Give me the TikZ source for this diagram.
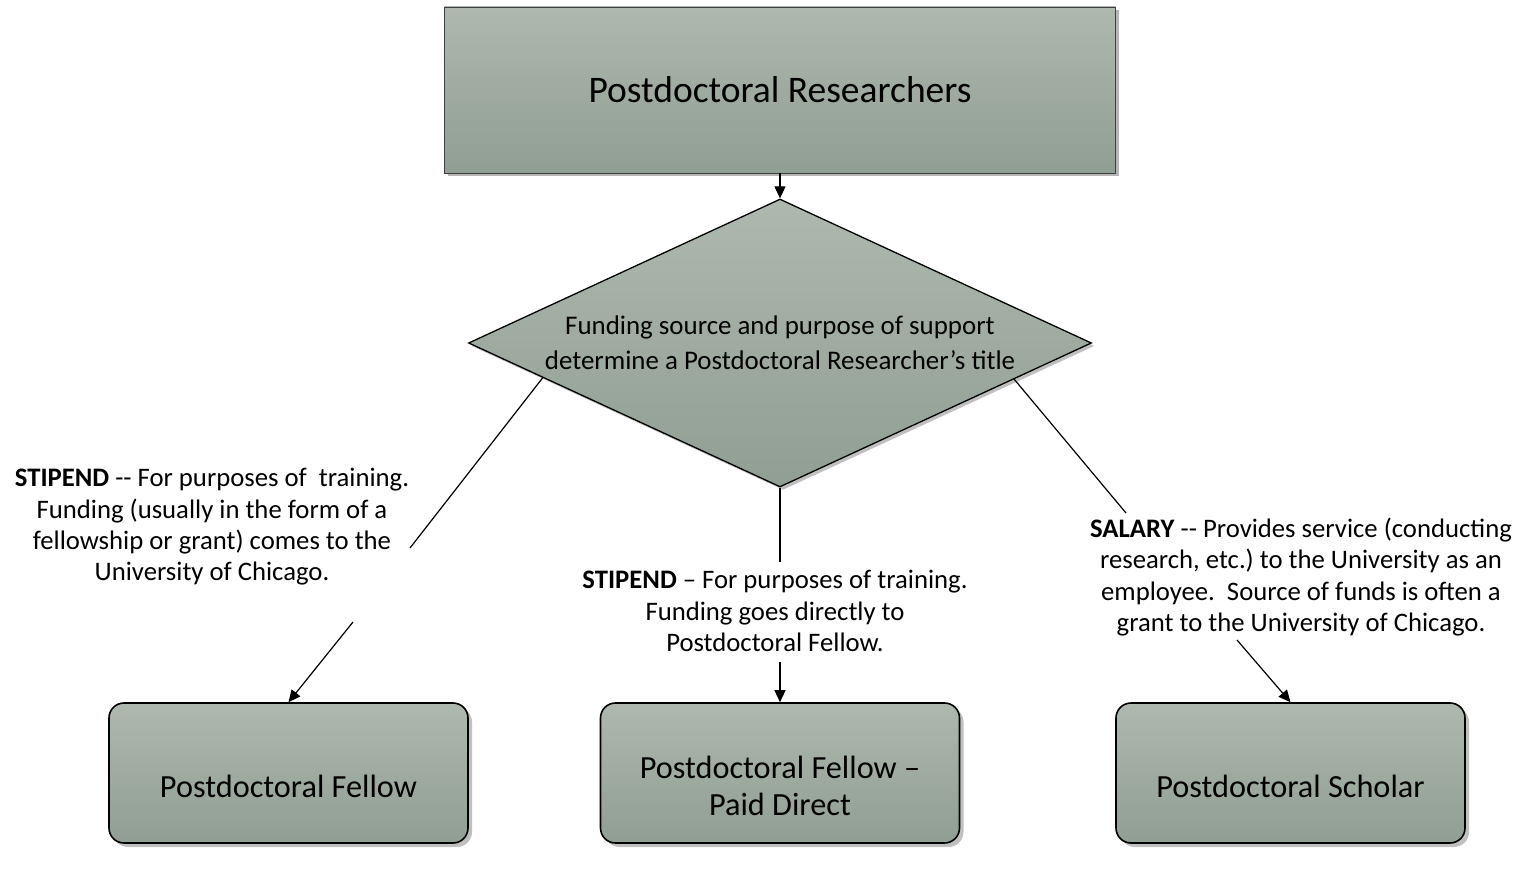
\documentclass[tikz,border=0pt]{standalone}
\usepackage{fontspec}
\setmainfont{Carlito}
\usetikzlibrary{shapes.geometric,calc,shadows,arrows.meta}
\definecolor{boxtop}{RGB}{174,184,175}
\definecolor{boxbot}{RGB}{144,158,147}
\definecolor{shade}{RGB}{150,150,150}
\frenchspacing
\begin{document}
\begin{tikzpicture}[x=1pt,y=-1pt,
  boxbase/.style={draw=black, top color=boxtop, bottom color=boxbot,
    align=center, inner sep=0pt},
  topbox/.style={boxbase, draw=black!75, line width=0.8pt,
    minimum width=671pt, minimum height=166pt,
    drop shadow={shadow xshift=3pt, shadow yshift=-3pt, fill=shade, opacity=.7},
    font=\fontsize{37.5}{44}\selectfont},
  decision/.style={boxbase, diamond, line width=1.3pt, shape aspect=2.16,
    minimum width=623pt, minimum height=288pt,
    drop shadow={shadow xshift=3pt, shadow yshift=-3pt, fill=shade, opacity=.6},
    font=\fontsize{26.9}{35}\selectfont},
  titlebox/.style={boxbase, line width=1.6pt, rounded corners=15pt,
    minimum width=359pt, minimum height=140pt,
    drop shadow={shadow xshift=4pt, shadow yshift=-4pt, fill=shade, opacity=.6}},
  titletext/.style={align=center, inner sep=0pt, yshift=-13pt,
    font=\fontsize{32.3}{37}\selectfont},
  note/.style={align=center, inner sep=0pt, font=\fontsize{26.7}{31.3}\selectfont},
  link/.style={draw=black, line width=1.2pt},
  arrow/.style={link, -{Triangle[length=12pt,width=11pt]}}
]
\useasboundingbox (0,0) rectangle (1521,874);

% nodes
\node[topbox] (top) at (780,90) {Postdoctoral Researchers};
\node[decision] (dec) at (780,343) {Funding source and purpose of support\\determine a Postdoctoral Researcher’s title};

\node[titlebox, label={[titletext]center:Postdoctoral Fellow}] (fellow) at (288.5,773) {};
\node[titlebox, label={[titletext]center:Postdoctoral Fellow –\\Paid Direct}] (direct) at (780,773) {};
\node[titlebox, minimum width=349pt, label={[titletext]center:Postdoctoral Scholar}] (scholar) at (1290.5,773) {};

\node[note] (noteA) at (212,527) {\textbf{STIPEND} -{}- For purposes of \ training.\\Funding (usually in the form of a\\fellowship or grant) comes to the\\University of Chicago.};
\node[note] (noteB) at (775,611) {\textbf{STIPEND} – For purposes of training.\\Funding goes directly to\\Postdoctoral Fellow.};
\node[note] (noteC) at (1301,577) {\textbf{SALARY} -{}- Provides service (conducting\\research, etc.) to the University as an\\employee.\ \ Source of funds is often a\\grant to the University of Chicago.};

% connector end points around the notes
\coordinate (a1) at ($(dec.west)!0.24!(dec.south)$);
\coordinate (a2) at (410,548);
\coordinate (a3) at (353,622);
\coordinate (b1) at (780,562);
\coordinate (b2) at (780,662);
\coordinate (c1) at ($(dec.east)!0.25!(dec.south)$);
\coordinate (c2) at (1126,513);
\coordinate (c3) at (1237,640);

% connectors
\draw[arrow] (top.south) -- (dec.north);
\draw[link] (a1) -- (a2);
\draw[arrow] (a3) -- (fellow.north);
\draw[link] (dec.south) -- (b1);
\draw[arrow] (b2) -- (direct.north);
\draw[link] (c1) -- (c2);
\draw[arrow] (c3) -- (scholar.north);
\end{tikzpicture}
\end{document}
